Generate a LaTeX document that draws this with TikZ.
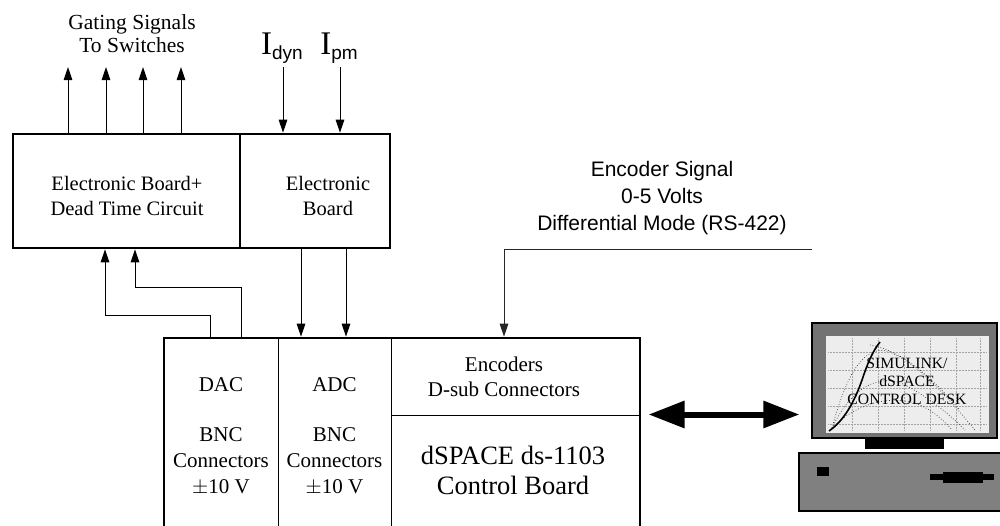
\documentclass[tikz,border=0pt]{standalone}
\usepackage{fontspec}
\setmainfont{Liberation Serif}
\newfontfamily\arialfont{Liberation Sans}
\usetikzlibrary{arrows.meta}
\definecolor{bezel}{gray}{0.45}
\definecolor{casing}{gray}{0.5}
\definecolor{glass}{gray}{0.93}

\begin{document}
\begin{tikzpicture}[x=1pt,y=-1pt,
  outer/.style={draw, line width=2.6pt, inner sep=0pt},
  cell/.style={draw, line width=1pt, inner sep=0pt},
  sig/.style={line width=1pt, -{Triangle[length=13pt,width=8.5pt]}},
  txt/.style={align=center, inner sep=0pt},
  bigarrow/.style={line width=6pt,
    {Triangle[length=36pt,width=26pt]}-{Triangle[length=36pt,width=26pt]}},
  dotgrid/.style={gray!70, line width=0.5pt, densely dotted},
  trace/.style={gray!40!black, line width=0.7pt, dotted}]
\useasboundingbox (0,0) rectangle (1000,525);
\clip (0,0) rectangle (1000,525);

% upper boards
\node[outer, minimum width=227pt, minimum height=114pt] (edt) at (126.5,191) {};
\node[outer, minimum width=150pt, minimum height=114pt] (eb) at (315,191) {};
\node[txt, font=\fontsize{20.5}{25}\selectfont] (edtlbl) at (127,196)
  {Electronic Board+\\Dead Time Circuit};
\node[txt, font=\fontsize{20.5}{25}\selectfont] (eblbl) at (328,196)
  {Electronic\\Board};

% gating signals
\node[txt, font=\fontsize{21.5}{23}\selectfont] (gatelbl) at (132,34)
  {Gating Signals\\To Switches};
\coordinate (g1) at (68,67);
\coordinate (g2) at (106,67);
\coordinate (g3) at (143,67);
\coordinate (g4) at (181,67);
\foreach \g in {g1,g2,g3,g4}
  \draw[sig] (\g |- edt.north) -- (\g);

% current measurements
\coordinate (idyn) at (283,67);
\coordinate (ipm) at (340,67);
\node[txt, anchor=base] (idynlbl) at (282,54)
  {\fontsize{33}{33}\selectfont I\raisebox{-5pt}{\arialfont\fontsize{19}{19}\selectfont dyn}};
\node[txt, anchor=base] (ipmlbl) at (339,54)
  {\fontsize{33}{33}\selectfont I\raisebox{-5pt}{\arialfont\fontsize{19}{19}\selectfont pm}};
\draw[sig] (idyn) -- (idyn |- eb.north);
\draw[sig] (ipm) -- (ipm |- eb.north);

% dSPACE board
\node[cell, minimum width=114pt, minimum height=192pt] (dac) at (221,434) {};
\node[cell, minimum width=113pt, minimum height=192pt] (adc) at (334.5,434) {};
\node[cell, minimum width=249pt, minimum height=77pt] (enc) at (515.5,376.5) {};
\node[cell, minimum width=249pt, minimum height=115pt] (ctrl) at (515.5,472.5) {};
\node[outer, minimum width=476pt, minimum height=192pt] (board) at (402,434) {};

\node[txt, font=\fontsize{21}{26}\selectfont] (daclbl) at (221,385) {DAC};
\node[txt, font=\fontsize{21}{26}\selectfont] (dacbnc) at (221,461)
  {BNC\\Connectors\\$\pm$10 V};
\node[txt, font=\fontsize{21}{26}\selectfont] (adclbl) at (334.5,385) {ADC};
\node[txt, font=\fontsize{21}{26}\selectfont] (adcbnc) at (334.5,461)
  {BNC\\Connectors\\$\pm$10 V};
\node[txt, font=\fontsize{21}{25}\selectfont] (enclbl) at (504,377)
  {Encoders\\D-sub Connectors};
\node[txt, font=\fontsize{26.5}{30}\selectfont] (ctrllbl) at (513,470)
  {dSPACE ds-1103\\Control Board};

% DAC outputs to the dead time circuit
\coordinate (da) at (210,315);
\coordinate (db) at (241,287);
\coordinate (ta) at (105,0);
\coordinate (tb) at (135,0);
\draw[sig] (da |- board.north) -- (da) -| (edt.south -| ta);
\draw[sig] (db |- board.north) -- (db) -| (edt.south -| tb);

% measured currents to the ADC
\coordinate (a1) at (301,0);
\coordinate (a2) at (346,0);
\draw[sig] (a1 |- eb.south) -- (a1 |- board.north);
\draw[sig] (a2 |- eb.south) -- (a2 |- board.north);

% encoder input
\node[txt, font=\arialfont\fontsize{21}{26.7}\selectfont] (enclabel) at (662,198)
  {Encoder Signal\\0-5 Volts\\Differential Mode (RS-422)};
\coordinate (encin) at (812,249);
\coordinate (ex) at (504,249);
\draw[sig, black!85] (encin) -- (ex) -- (ex |- board.north);

% host PC
\node[draw, line width=1.2pt, fill=bezel, minimum width=185pt, minimum height=115pt,
  inner sep=0pt] (monitor) at (904.5,380.5) {};
\node[fill=glass, minimum width=163pt, minimum height=97pt, inner sep=0pt]
  (screen) at (907.5,384.5) {};
\foreach \xx in {852,878,904,930,956,980}
  \draw[dotgrid] (\xx,338) -- (\xx,431);
\foreach \yy in {352,370,388,406,424}
  \draw[dotgrid] (828,\yy) -- (987,\yy);
\draw[trace] (832,428) .. controls (850,360) and (870,345) .. (890,352) .. controls (920,365) and (950,400) .. (975,430);
\draw[trace] (832,428) .. controls (855,380) and (885,375) .. (905,385) .. controls (930,398) and (950,415) .. (965,430);
\draw[trace] (832,428) .. controls (860,400) and (895,395) .. (920,405) .. controls (935,412) and (945,422) .. (952,430);
\draw[trace] (870,345) .. controls (900,350) and (930,375) .. (960,410);
\draw[black, line width=1.6pt] (829,431) .. controls (845,420) and (855,400) .. (862,380) .. controls (867,365) and (872,352) .. (880,342);
\node[txt, font=\fontsize{15.7}{18}\selectfont] (pclbl) at (907,381)
  {SIMULINK/\\dSPACE\\CONTROL DESK};
\node[fill=black, minimum width=79pt, minimum height=11pt, inner sep=0pt]
  (stand) at (904.5,443.5) {};
\node[draw, line width=2pt, fill=casing, minimum width=206pt, minimum height=58pt,
  inner sep=0pt] (base) at (902,482) {};
\node[fill=black, minimum width=12pt, minimum height=9pt, inner sep=0pt]
  (led) at (823,471.5) {};
\node[fill=black, minimum width=64pt, minimum height=6pt, inner sep=0pt]
  (slot) at (962,477) {};
\node[fill=black, minimum width=40pt, minimum height=11pt, inner sep=0pt]
  (slotmid) at (963,477) {};

% link between board and PC
\draw[bigarrow] ([xshift=8pt]ctrl.north east) -- ([xshift=-12pt]monitor.west |- ctrl.north east);
\end{tikzpicture}
\end{document}
